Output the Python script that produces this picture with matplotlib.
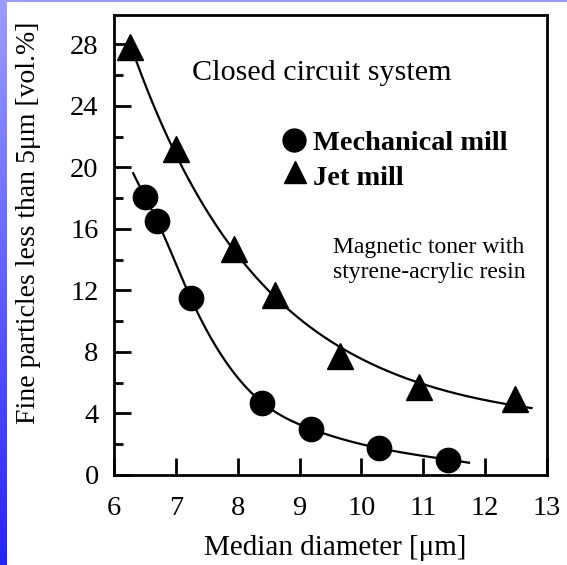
import numpy as np
import matplotlib
matplotlib.use("Agg")
import matplotlib.pyplot as plt
from matplotlib.colors import LinearSegmentedColormap

plt.rcParams["font.family"] = ["Liberation Serif", "DejaVu Serif"]

# Median diameter [um] and fine-particle fraction [vol.%]
mech_x = [6.50, 6.70, 7.24, 8.40, 9.18, 10.28, 11.40]
mech_y = [18.1, 16.5, 11.5, 4.7, 3.0, 1.75, 1.0]
jet_x = [6.26, 7.00, 7.94, 8.60, 9.66, 10.93, 12.48]
jet_y = [27.8, 21.2, 14.7, 11.7, 7.75, 5.75, 4.95]

# extent of the trend lines
mech_fit_range = (6.31, 11.74)
jet_fit_range = (6.26, 12.75)

x_ticks = [6, 7, 8, 9, 10, 11, 12, 13]
y_ticks = [0, 4, 8, 12, 16, 20, 24, 28]
y_minor = [2, 6, 10, 14, 18, 22, 26]


def fit_decay(x, y):
    """Least-squares fit of y = a*exp(-b*(x-x0)) + c, scanning b."""
    x = np.asarray(x, float)
    y = np.asarray(y, float)
    x0 = x[0]
    best = None
    for b in np.linspace(0.05, 3.0, 1200):
        A = np.column_stack([np.exp(-b * (x - x0)), np.ones_like(x)])
        coef, *_ = np.linalg.lstsq(A, y, rcond=None)
        r = np.sum((A @ coef - y) ** 2)
        if best is None or r < best[0]:
            best = (r, b, coef)
    _, b, (a, c) = best
    return lambda t: a * np.exp(-b * (t - x0)) + c


def natural_spline(x, y):
    """Natural cubic spline through the points (end segments extended)."""
    x = np.asarray(x, float)
    y = np.asarray(y, float)
    n = len(x)
    h = np.diff(x)
    A = np.zeros((n, n))
    r = np.zeros(n)
    A[0, 0] = A[-1, -1] = 1.0
    for i in range(1, n - 1):
        A[i, i - 1] = h[i - 1]
        A[i, i] = 2 * (h[i - 1] + h[i])
        A[i, i + 1] = h[i]
        r[i] = 6 * ((y[i + 1] - y[i]) / h[i] - (y[i] - y[i - 1]) / h[i - 1])
    M = np.linalg.solve(A, r)

    def f(t):
        t = np.asarray(t, float)
        i = np.clip(np.searchsorted(x, t) - 1, 0, n - 2)
        hi = h[i]
        a = x[i + 1] - t
        b = t - x[i]
        return (M[i] * a ** 3 / (6 * hi) + M[i + 1] * b ** 3 / (6 * hi)
                + (y[i] / hi - M[i] * hi / 6) * a
                + (y[i + 1] / hi - M[i + 1] * hi / 6) * b)
    return f


W, H = 567, 565
fig = plt.figure(figsize=(W / 100, H / 100), dpi=100)
fig.patch.set_facecolor("white")

# decorative slide strips
cmap = LinearSegmentedColormap.from_list("strip", ["#2424ff", "#9c9cff"])
sax = fig.add_axes([0, 0, 7 / W, 1])
sax.imshow(np.linspace(0, 1, 256)[:, None], aspect="auto", cmap=cmap,
           origin="lower", extent=[0, 1, 0, 1])
sax.set_axis_off()
tax = fig.add_axes([0, 1 - 2 / H, 1, 2 / H])
tax.set_axis_off()
tax.add_patch(plt.Rectangle((0, 0), 1, 1, color="#9c9cff", transform=tax.transAxes))

ax = fig.add_axes([114 / W, 1 - 475 / H, 433 / W, 460 / H])
ax.set_xlim(6, 13)
ax.set_ylim(0, 29.9)

lw = 1.6
for xs, ys, rng, fitter in [(mech_x, mech_y, mech_fit_range, natural_spline),
                            (jet_x, jet_y, jet_fit_range, fit_decay)]:
    f = fitter(xs, ys)
    t = np.linspace(rng[0], rng[1], 300)
    ax.plot(t, f(t), color="black", lw=lw, zorder=2)

ax.plot(mech_x, mech_y, "o", color="black", ms=17.5, zorder=3, clip_on=False)
ax.plot(jet_x, jet_y, "^", color="black", ms=18.5, zorder=3, clip_on=False)

ax.set_xticks(x_ticks)
ax.set_yticks(y_ticks)
ax.set_yticks(y_minor, minor=True)
ax.tick_params(axis="both", which="major", direction="in", length=12, width=2,
               labelsize=20.5)
ax.tick_params(axis="x", which="major", pad=15)
ax.tick_params(axis="y", which="major", pad=11)
ax.tick_params(axis="y", which="minor", direction="in", length=6.5, width=2)
ax.tick_params(top=False, right=False)
for s in ax.spines.values():
    s.set_linewidth(2)

# annotations
ax.text(0.480, 0.8587, "Closed circuit system", transform=ax.transAxes,
        ha="center", va="baseline", fontsize=21.7)
ax.plot([0.4157], [0.7283], "o", color="black", ms=16.5, transform=ax.transAxes)
ax.plot([0.418], [0.6587], "^", color="black", ms=16.5, transform=ax.transAxes)
ax.text(0.4596, 0.7065, "Mechanical mill", transform=ax.transAxes,
        ha="left", va="baseline", fontsize=20.4, fontweight="bold")
ax.text(0.4596, 0.6304, "Jet mill", transform=ax.transAxes,
        ha="left", va="baseline", fontsize=20.4, fontweight="bold")
ax.text(0.7275, 0.482, "Magnetic toner with", transform=ax.transAxes,
        ha="center", va="baseline", fontsize=17)
ax.text(0.7275, 0.4276, "styrene-acrylic resin", transform=ax.transAxes,
        ha="center", va="baseline", fontsize=17)

fig.text(335 / W, 1 - 555 / H, "Median diameter [\u03bcm]", ha="center",
         va="baseline", fontsize=21)
fig.text(28.5 / W, 1 - 223 / H, "Fine particles less than 5\u03bcm [vol.%]",
         rotation=90, ha="center", va="center", fontsize=20)

fig.savefig("out.png", dpi=100)
